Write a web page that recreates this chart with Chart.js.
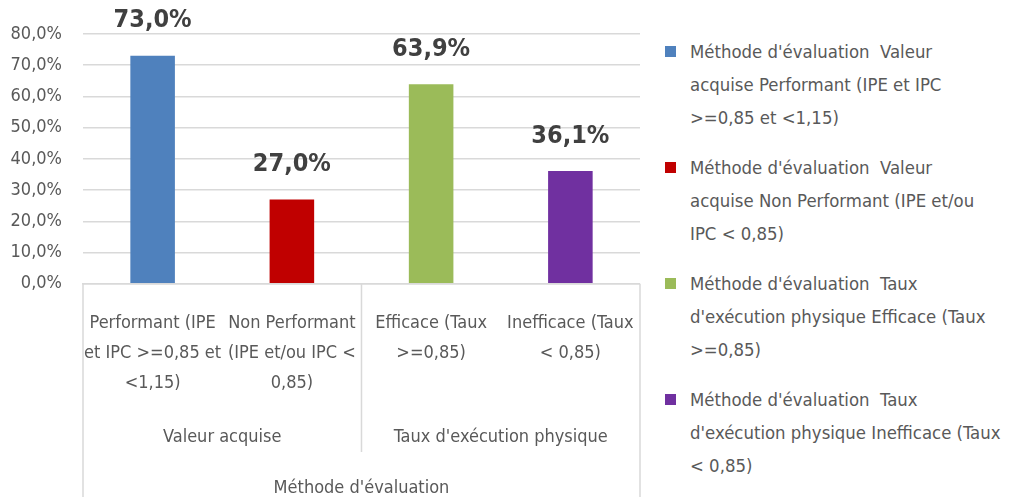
<!DOCTYPE html>
<html>
<head>
<meta charset="utf-8">
<script src="https://cdn.jsdelivr.net/npm/chart.js@4"></script>
<style>
  html, body { margin: 0; padding: 0; background: #fff; }
  body { width: 1009px; height: 497px; position: relative; overflow: hidden;
         font-family: "DejaVu Sans Condensed", "DejaVu Sans", sans-serif; }
  #wrap { position: absolute; left: 0; top: 0; width: 652px; height: 497px; }
  #legend { position: absolute; left: 665px; top: 35px; width: 344px; color: #595959; font-size: 18.4px; }
  .item { position: relative; padding-left: 25px; line-height: 33px; margin-bottom: 17px; white-space: pre; }
  .box { position: absolute; left: 0; top: 11px; width: 11px; height: 11px; }
</style>
</head>
<body>
<div id="wrap"><canvas id="c"></canvas></div>
<div id="legend"></div>
<script>
const FONT = '"DejaVu Sans Condensed", "DejaVu Sans", sans-serif';

// data
const categories = [
  ['Performant (IPE', 'et IPC >=0,85 et', '<1,15)'],
  ['Non Performant', '(IPE et/ou IPC <', '0,85)'],
  ['Efficace (Taux', '>=0,85)'],
  ['Inefficace (Taux', '< 0,85)']
];
const groups = ['Valeur acquise', "Taux d'exécution physique"];
const axisTitle = "Méthode d'évaluation";
const values = [73.0, 27.0, 63.9, 36.1];
const colors = ['#4f81bd', '#c00000', '#9bbb59', '#7030a0'];
const seriesNames = [
  ["Méthode d'évaluation  Valeur", 'acquise Performant (IPE et IPC', '>=0,85 et <1,15)'],
  ["Méthode d'évaluation  Valeur", 'acquise Non Performant (IPE et/ou', 'IPC < 0,85)'],
  ["Méthode d'évaluation  Taux", "d'exécution physique Efficace (Taux", '>=0,85)'],
  ["Méthode d'évaluation  Taux", "d'exécution physique Inefficace (Taux", '< 0,85)']
];
const yTicks = [0, 10, 20, 30, 40, 50, 60, 70, 80];

const pct = v => v.toFixed(1).replace('.', ',') + '%';

const datasets = values.map((v, i) => ({
  label: seriesNames[i].join(' '),
  data: values.map((_, j) => (j === i ? v : null)),
  backgroundColor: colors[i],
  categoryPercentage: 1,
  barPercentage: 0.32
}));

// legend in html
const lg = document.getElementById('legend');
seriesNames.forEach((lines, i) => {
  const d = document.createElement('div');
  d.className = 'item';
  const box = document.createElement('span');
  box.className = 'box';
  box.style.background = colors[i];
  d.appendChild(box);
  d.appendChild(document.createTextNode(lines.join('\n')));
  lg.appendChild(d);
});

const decor = {
  id: 'decor',
  afterDraw(chart) {
    const ctx = chart.ctx;
    const x = chart.scales.x, x2 = chart.scales.x2;
    const top = chart.chartArea.bottom;
    const mid = (x.getPixelForValue(1) + x.getPixelForValue(2)) / 2;
    ctx.save();
    ctx.strokeStyle = '#d9d9d9';
    ctx.lineWidth = 1.5;
    ctx.beginPath();
    ctx.moveTo(x.left, top); ctx.lineTo(x.left, chart.height);
    ctx.moveTo(x.right, top); ctx.lineTo(x.right, chart.height);
    ctx.moveTo(mid, top); ctx.lineTo(mid, x2.bottom - 45);
    ctx.stroke();
    // value labels
    ctx.fillStyle = '#404040';
    ctx.font = 'bold 25px ' + FONT;
    ctx.textAlign = 'center';
    ctx.textBaseline = 'middle';
    chart.data.datasets.forEach((ds, i) => {
      const bar = chart.getDatasetMeta(i).data[i];
      ctx.fillText(pct(values[i]), bar.x, bar.y - 35);
    });
    ctx.restore();
  }
};

new Chart(document.getElementById('c'), {
  type: 'bar',
  data: { labels: categories, datasets },
  options: {
    responsive: true,
    maintainAspectRatio: false,
    animation: false,
    datasets: { bar: { grouped: false } },
    layout: { padding: { top: 34, right: 11, left: 0, bottom: 0 } },
    plugins: { legend: { display: false }, tooltip: { enabled: false } },
    scales: {
      y: {
        min: 0, max: 80,
        afterBuildTicks: s => { s.ticks = yTicks.map(v => ({ value: v })); },
        afterFit: s => { s.width = 83; },
        ticks: { color: '#595959', font: { family: FONT, size: 18 }, padding: 21, callback: v => pct(v) },
        grid: { color: '#d9d9d9', lineWidth: 1.5, drawTicks: false },
        border: { display: false }
      },
      x: {
        position: 'bottom',
        ticks: { color: '#595959', font: { family: FONT, size: 18, lineHeight: 1.65 }, maxRotation: 0, autoSkip: false, padding: 17 },
        grid: { display: false },
        border: { display: true, color: '#d9d9d9', width: 1.5 }
      },
      x2: {
        type: 'category',
        position: 'bottom',
        labels: groups,
        offset: true,
        ticks: { color: '#595959', font: { family: FONT, size: 18 }, padding: 4 },
        grid: { display: false },
        border: { display: false },
        title: { display: true, text: axisTitle, color: '#595959', font: { family: FONT, size: 18 }, padding: { top: 25, bottom: -2 } }
      }
    }
  },
  plugins: [decor]
});
</script>
</body>
</html>
